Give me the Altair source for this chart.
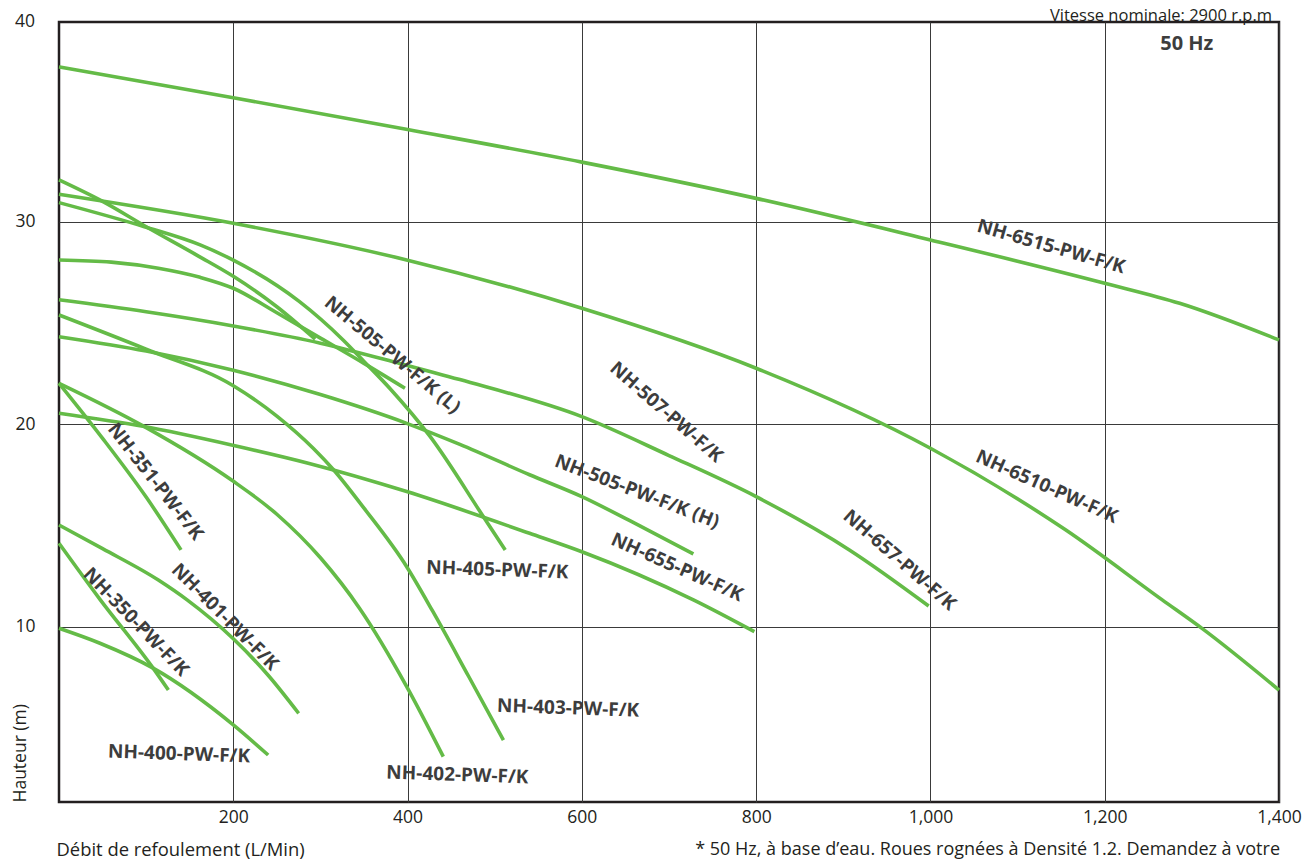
import altair as alt
import pandas as pd

# ---------------- curve data: flow (L/min) vs head (m) ----------------
x_6515 = [0, 200, 400, 600, 800, 1000, 1200, 1286, 1400]
y_6515 = [37.64, 36.12, 34.55, 32.94, 31.15, 29.10, 26.96, 25.97, 24.16]

x_6510 = [0, 200, 400, 600, 800, 1000, 1155, 1266, 1312, 1400]
y_6510 = [31.35, 29.92, 28.10, 25.72, 22.76, 18.81, 14.78, 11.32, 9.9, 6.87]

x_507 = [0, 50, 100, 160, 200, 250, 294]
y_507 = [32.06, 31.0, 29.75, 28.3, 27.3, 25.8, 24.2]

x_405 = [0, 98, 162, 200, 276, 326, 350, 380, 426, 487, 512]
y_405 = [30.94, 29.75, 28.85, 28.1, 26.05, 24.16, 23.1, 21.75, 19.38, 15.43, 13.79]

x_505L = [0, 60, 114, 162, 200, 250, 300, 350, 397]
y_505L = [28.11, 28.0, 27.7, 27.25, 26.71, 25.5, 24.25, 23.0, 21.77]

x_657 = [0, 100, 200, 300, 391, 460, 600, 700, 800, 907, 998]
y_657 = [26.14, 25.55, 24.85, 24.0, 23.0, 22.2, 20.37, 18.45, 16.42, 13.79, 11.02]

x_403 = [0, 100, 200, 250, 292, 315, 350, 399, 429, 470, 510]
y_403 = [25.39, 23.7, 21.9, 20.4, 18.8, 17.75, 15.85, 12.96, 10.75, 7.55, 4.4]

x_505H = [0, 100, 200, 300, 399, 460, 540, 600, 660, 728]
y_505H = [24.32, 23.61, 22.66, 21.46, 20.04, 19.0, 17.5, 16.42, 15.12, 13.59]

x_655 = [0, 98, 198, 286, 399, 540, 600, 728, 798]
y_655 = [20.54, 19.88, 18.97, 18.07, 16.67, 14.61, 13.7, 11.32, 9.75]

x_351 = [0, 50, 100, 140]
y_351 = [22.02, 19.3, 16.4, 13.79]

x_402 = [0, 98, 198, 250, 300, 345, 399, 441]
y_402 = [22.02, 19.88, 17.24, 15.55, 13.4, 10.9, 7.04, 3.58]

x_401 = [0, 50, 114, 147, 200, 240, 275]
y_401 = [15.02, 13.85, 12.3, 11.32, 9.4, 7.6, 5.72]

x_350 = [0, 47, 108, 125.5]
y_350 = [14.12, 11.35, 7.95, 6.87]

x_400 = [0, 47, 108, 200, 240]
y_400 = [9.92, 9.18, 7.95, 5.15, 3.66]

# ---------------- curve labels ----------------
label_text = ["NH-6515-PW-F/K", "NH-6510-PW-F/K", "NH-507-PW-F/K", "NH-505-PW-F/K (H)",
              "NH-655-PW-F/K", "NH-657-PW-F/K", "NH-505-PW-F/K (L)", "NH-405-PW-F/K",
              "NH-403-PW-F/K", "NH-402-PW-F/K", "NH-400-PW-F/K", "NH-351-PW-F/K",
              "NH-350-PW-F/K", "NH-401-PW-F/K"]
label_x = [1138.5, 1133.5, 697.0, 663.3, 709.2, 964.6, 382.6, 503.0, 584.2, 457.1, 137.7, 110.8, 88.4, 190.5]
label_y = [28.77, 16.91, 20.59, 16.67, 12.93, 13.29, 23.42, 12.80, 5.97, 2.68, 3.71, 17.16, 10.23, 10.48]
label_angle = [16, 24, 41, 21, 24, 41, 40, 2, 2, 2, 2, 52, 46, 45]

x_ticks = [200, 400, 600, 800, 1000, 1200, 1400]
y_ticks = [10, 20, 30]
freq_text = ["50 Hz"]
freq_x = [1294.2]
freq_y = [38.78]

x_title = "Débit de refoulement (L/Min)"
y_title = "Hauteur (m)"
note_text = ["* 50 Hz, à base d’eau. Roues rognées à Densité 1.2. Demandez à votre"]
speed_text = ["Vitesse nominale: 2900 r.p.m"]

GREEN = "#64bb47"
TEXT = "#3d3d3d"
DARK = "#231f20"
FONT = "Open Sans"

curves = {
    "NH-6515": (x_6515, y_6515), "NH-6510": (x_6510, y_6510), "NH-507": (x_507, y_507),
    "NH-405": (x_405, y_405), "NH-505L": (x_505L, y_505L), "NH-657": (x_657, y_657),
    "NH-403": (x_403, y_403), "NH-505H": (x_505H, y_505H), "NH-655": (x_655, y_655),
    "NH-351": (x_351, y_351), "NH-402": (x_402, y_402), "NH-401": (x_401, y_401),
    "NH-350": (x_350, y_350), "NH-400": (x_400, y_400),
}
rows = []
for name, (xs, ys) in curves.items():
    for xv, yv in zip(xs, ys):
        rows.append({"model": name, "flow": xv, "head": yv})
curve_df = pd.DataFrame(rows)

label_df = pd.DataFrame({"flow": label_x, "head": label_y, "txt": label_text, "ang": label_angle})
freq_df = pd.DataFrame({"flow": freq_x, "head": freq_y, "txt": freq_text})

xscale = alt.Scale(domain=[0, 1400], nice=False, zero=False)
yscale = alt.Scale(domain=[1.34, 39.86], nice=False, zero=False)

xaxis = alt.Axis(values=x_ticks, format=",.0f", title=x_title, grid=True, gridColor="#3a3a3a",
                 gridWidth=1, domain=False, ticks=False, tickSize=0, labelFont=FONT,
                 labelFontSize=17.5, labelColor=DARK, labelPadding=6, labelFlush=False,
                 labelOverlap=False, titleFont=FONT, titleFontSize=18.4, titleFontWeight="normal",
                 titleColor=DARK, titleX=-3, titleY=53, titleAlign="left",
                 titleBaseline="alphabetic", titleAnchor="start")
yaxis = alt.Axis(values=y_ticks, title=y_title, grid=True, gridColor="#3a3a3a", gridWidth=1,
                 domain=False, ticks=False, tickSize=0, labelFont=FONT, labelFontSize=17.5,
                 labelColor=DARK, labelPadding=24, labelOverlap=False, titleFont=FONT,
                 titleFontSize=17.5, titleFontWeight="normal", titleColor=DARK, titleAngle=270,
                 titleX=-39, titleY=780, titleAlign="left", titleBaseline="middle")

X = alt.X("flow:Q", scale=xscale, axis=xaxis)
Y = alt.Y("head:Q", scale=yscale, axis=yaxis)

lines = alt.Chart(curve_df).mark_line(
    color=GREEN, strokeWidth=3.6, interpolate="monotone", strokeCap="butt"
).encode(x=X, y=Y, detail="model:N", order="flow:Q")

labels = alt.Chart(label_df).mark_text(
    font=FONT, fontWeight="bold", fontSize=19, color=TEXT, align="center", baseline="middle"
).encode(x=X, y=Y, text="txt:N", angle=alt.Angle("ang:Q", scale=None))

freq = alt.Chart(freq_df).mark_text(
    font=FONT, fontWeight="bold", fontSize=20, color=TEXT, align="center", baseline="middle"
).encode(x=X, y=Y, text="txt:N")

top_label = alt.Chart(pd.DataFrame({"t": ["40"]})).mark_text(
    font=FONT, fontSize=17.5, color=DARK, align="right", baseline="middle"
).encode(x=alt.value(-24), y=alt.value(0), text="t:N")

note = alt.Chart(pd.DataFrame({"t": note_text})).mark_text(
    font=FONT, fontSize=18, color=DARK, align="right", baseline="alphabetic"
).encode(x=alt.value(1221), y=alt.value(833), text="t:N")

speed = alt.Chart(pd.DataFrame({"t": speed_text})).mark_text(
    font=FONT, fontSize=16.5, color=DARK, align="right", baseline="alphabetic"
).encode(x=alt.value(1213), y=alt.value(-1), text="t:N")

chart = alt.layer(lines, labels, freq, top_label, note, speed).properties(
    width=1220, height=780,
    autosize=alt.AutoSizeParams(type="none"),
    padding={"left": 51, "top": 14, "right": 25, "bottom": 59},
    background="white",
).configure_view(stroke=DARK, strokeWidth=2.5)

chart.save("out.html", embed_options={"renderer": "svg", "actions": False})
